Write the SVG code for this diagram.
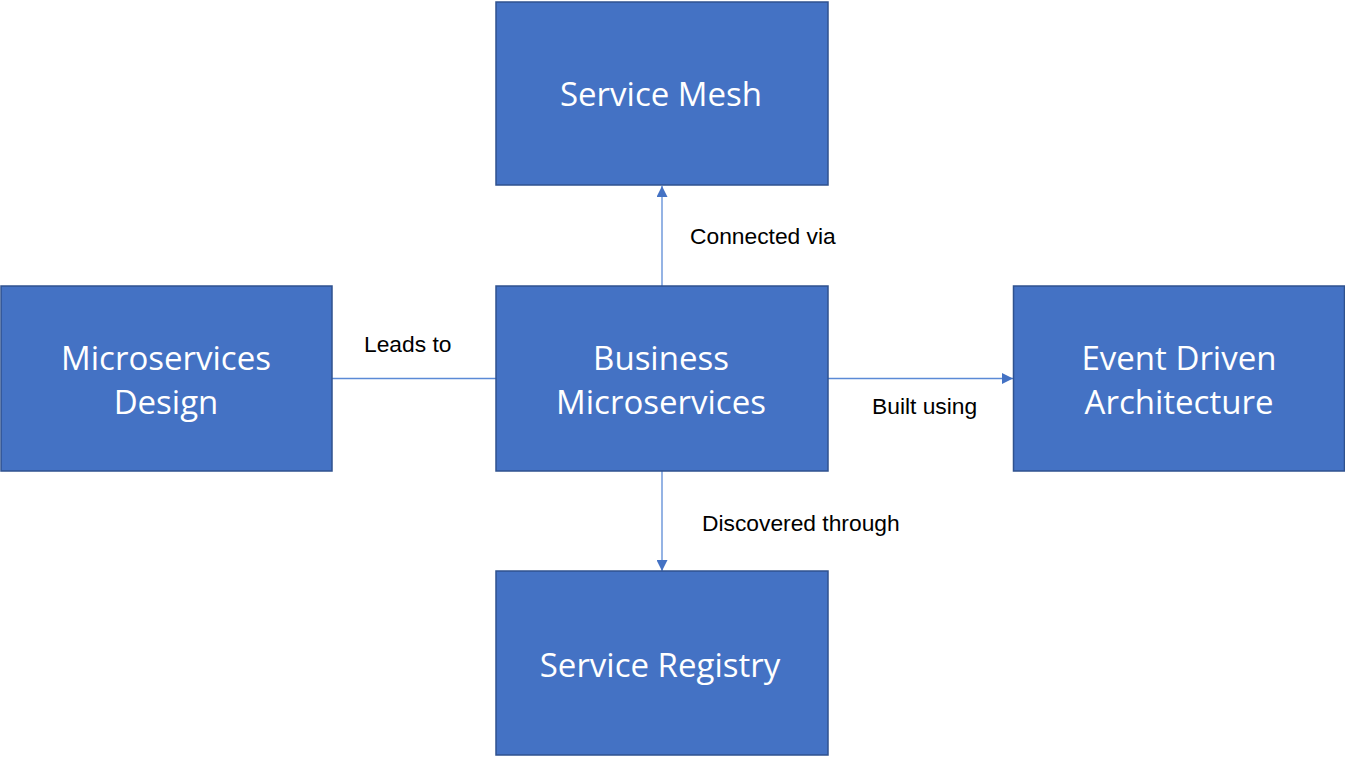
<svg xmlns="http://www.w3.org/2000/svg" width="1345" height="758" viewBox="0 0 1345 758">
<style>
.box{fill:#4472C4;stroke:#2F528F;stroke-width:1.5}
.nt{font-family:"Open Sans","Noto Sans",sans-serif;font-size:33px;fill:#ffffff;text-anchor:middle}
.lt{font-family:"Liberation Sans",Arial,sans-serif;font-size:22.8px;fill:#000000}
.cn{stroke:#5B8AD6;stroke-width:1.3;fill:none}
</style>
<defs>
<marker id="arr" viewBox="0 0 10 10" refX="10" refY="5" markerWidth="11" markerHeight="11" markerUnits="userSpaceOnUse" orient="auto">
<path d="M0,0 L10,5 L0,10 z" fill="#4472C4"/>
</marker>
</defs>
<rect width="1345" height="758" fill="#ffffff"/>
<g id="connectors">
<line class="cn" x1="332" y1="378.5" x2="496" y2="378.5"/>
<line class="cn" x1="662" y1="286" x2="662" y2="186" marker-end="url(#arr)"/>
<line class="cn" x1="828" y1="378.5" x2="1013" y2="378.5" marker-end="url(#arr)"/>
<line class="cn" x1="662" y1="471" x2="662" y2="571" marker-end="url(#arr)"/>
<text class="lt" x="364" y="352">Leads to</text>
<text class="lt" x="690" y="244">Connected via</text>
<text class="lt" x="872" y="414">Built using</text>
<text class="lt" x="702" y="531">Discovered through</text>
</g>
<g id="service-mesh">
<rect class="box" x="496" y="2" width="332" height="183"/>
<text class="nt" x="661" y="106">Service Mesh</text>
</g>
<g id="microservices-design">
<rect class="box" x="1" y="286" width="331" height="185"/>
<text class="nt" x="166" y="370">Microservices</text>
<text class="nt" x="166" y="414">Design</text>
</g>
<g id="business-microservices">
<rect class="box" x="496" y="286" width="332" height="185"/>
<text class="nt" x="661" y="370">Business</text>
<text class="nt" x="661" y="414">Microservices</text>
</g>
<g id="event-driven-architecture">
<rect class="box" x="1013.5" y="286" width="331" height="185"/>
<text class="nt" x="1179" y="370">Event Driven</text>
<text class="nt" x="1179" y="414">Architecture</text>
</g>
<g id="service-registry">
<rect class="box" x="496" y="571" width="332" height="184"/>
<text class="nt" x="660" y="677">Service Registry</text>
</g>
</svg>
